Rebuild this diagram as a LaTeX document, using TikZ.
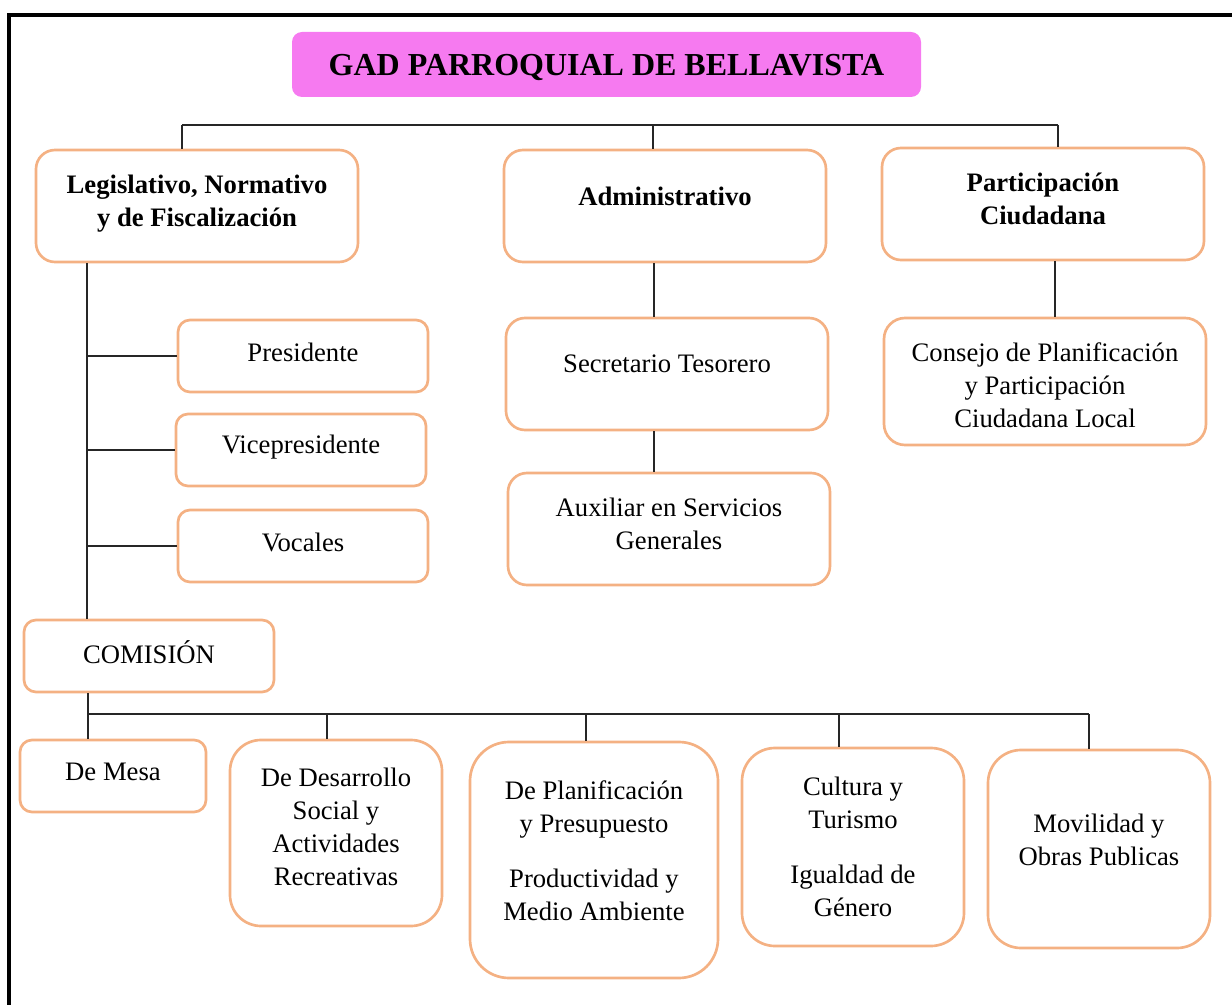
\documentclass[tikz,border=0pt]{standalone}
\usepackage{fontspec}
\setmainfont{Liberation Serif}
\usetikzlibrary{positioning}

\definecolor{gadpink}{RGB}{246,122,240}
\definecolor{boxorange}{RGB}{244,177,131}

\tikzset{
  orgbox/.style n args={3}{draw=boxorange, line width=2pt, fill=white,
    rounded corners=#3*0.75pt, minimum width=#1*0.75pt,
    minimum height=#2*0.75pt, inner sep=0pt},
  orgtext/.style={font=\fontsize{20}{24.75}\selectfont, align=center,
    inner sep=0pt, yshift=-2.25pt},
  headtext/.style={orgtext, font=\fontsize{20}{24.75}\selectfont\bfseries},
  link/.style={draw=black!85, line width=0.9pt}
}

\begin{document}
\begin{tikzpicture}[x=0.75pt, y=-0.75pt]
  \useasboundingbox (0,0) rectangle (1232,1005);
  % Page frame
  \draw[line width=3pt] (9,1005) -- (9,15) -- (1232,15);
  % Title
  \node[fill=gadpink, rounded corners=7.5pt, minimum width=471.75pt,
        minimum height=48.75pt, inner sep=0pt] (gad) at (606.5,64.5) {};
  \node[orgtext, font=\fontsize{24}{28}\selectfont\bfseries] (gad-t) at (606.5,65)
    {GAD PARROQUIAL DE BELLAVISTA};
  % Main areas
  \node[orgbox={322}{112}{19}] (legis)  at (197,206) {};
  \node[orgbox={322}{112}{19}] (admin)  at (665,206) {};
  \node[orgbox={322}{112}{19}] (partic) at (1043,204) {};
  \node[headtext] (legis-t)  at (197,201) {Legislativo, Normativo\\y de Fiscalización};
  \node[headtext] (admin-t)  at (665,193) {Administrativo};
  \node[headtext] (partic-t) at (1043,196) {Participación\\Ciudadana};
  % Legislative members
  \node[orgbox={250}{72}{12}] (pres)   at (303,356) {};
  \node[orgbox={250}{72}{12}] (vice)   at (301,450) {};
  \node[orgbox={250}{72}{12}] (vocal)  at (303,546) {};
  \node[orgbox={250}{72}{12}] (comis)  at (149,656) {};
  \node[orgtext] (pres-t)  at (303,349) {Presidente};
  \node[orgtext] (vice-t)  at (301,444) {Vicepresidente};
  \node[orgtext] (vocal-t) at (303,539) {Vocales};
  \node[orgtext] (comis-t) at (149,649) {COMISIÓN};
  % Administrative staff
  \node[orgbox={322}{112}{19}] (secre) at (667,374) {};
  \node[orgbox={322}{112}{19}] (auxil) at (669,529) {};
  \node[orgtext] (secre-t) at (667,361) {Secretario Tesorero};
  \node[orgtext] (auxil-t) at (669,521) {Auxiliar en Servicios\\Generales};
  % Citizen council
  \node[orgbox={322}{127}{21}] (conse) at (1045,381.5) {};
  \node[orgtext] (conse-t) at (1045,382) {Consejo de Planificación\\y Participación\\Ciudadana Local};
  % Commissions
  \node[orgbox={186}{72}{12}]  (mesa) at (113,776) {};
  \node[orgbox={212}{186}{31}] (desa) at (336,833) {};
  \node[orgbox={248}{236}{39}] (plan) at (594,860) {};
  \node[orgbox={222}{198}{33}] (cult) at (853,847) {};
  \node[orgbox={222}{198}{33}] (movi) at (1099,849) {};
  \node[orgtext] (mesa-t) at (113,769) {De Mesa};
  \node[orgtext] (desa-t) at (336,824) {De Desarrollo\\Social y\\Actividades\\Recreativas};
  \node[orgtext] (plan-t) at (594,848) {De Planificación\\y Presupuesto\\[16.5pt]Productividad y\\Medio Ambiente};
  \node[orgtext] (cult-t) at (853,844) {Cultura y\\Turismo\\[16pt]Igualdad de\\Género};
  \node[orgtext] (movi-t) at (1099,837) {Movilidad y\\Obras Publicas};
  % Top connectors
  \coordinate (top-l) at (182,125);
  \coordinate (top-m) at (653,125);
  \coordinate (top-r) at (1058,125);
  \draw[link] (top-l) -- (top-r);
  \draw[link] (top-l) -- (top-l |- legis.north);
  \draw[link] (top-m) -- (top-m |- admin.north);
  \draw[link] (top-r) -- (top-r |- partic.north);
  % Legislative spine
  \coordinate (spine) at (87,0);
  \draw[link] (legis.south -| spine) -- (comis.north -| spine);
  \foreach \n in {pres, vice, vocal}
    \draw[link] (\n.west -| spine) -- (\n.west);
  % Administrative chain
  \coordinate (adm) at (654,0);
  \draw[link] (admin.south -| adm) -- (secre.north -| adm);
  \draw[link] (secre.south -| adm) -- (auxil.north -| adm);
  % Citizen chain
  \coordinate (cit) at (1055,0);
  \draw[link] (partic.south -| cit) -- (conse.north -| cit);
  % Commission bar
  \coordinate (cbar) at (88,714);
  \draw[link] (comis.south -| cbar) -- (mesa.north -| cbar);
  \draw[link] (cbar) -- (1089,714);
  \foreach \n/\x in {desa/327, plan/586, cult/839, movi/1089} {
    \coordinate (d-\n) at (\x,714);
    \draw[link] (d-\n) -- (d-\n |- \n.north);
  }
\end{tikzpicture}
\end{document}
